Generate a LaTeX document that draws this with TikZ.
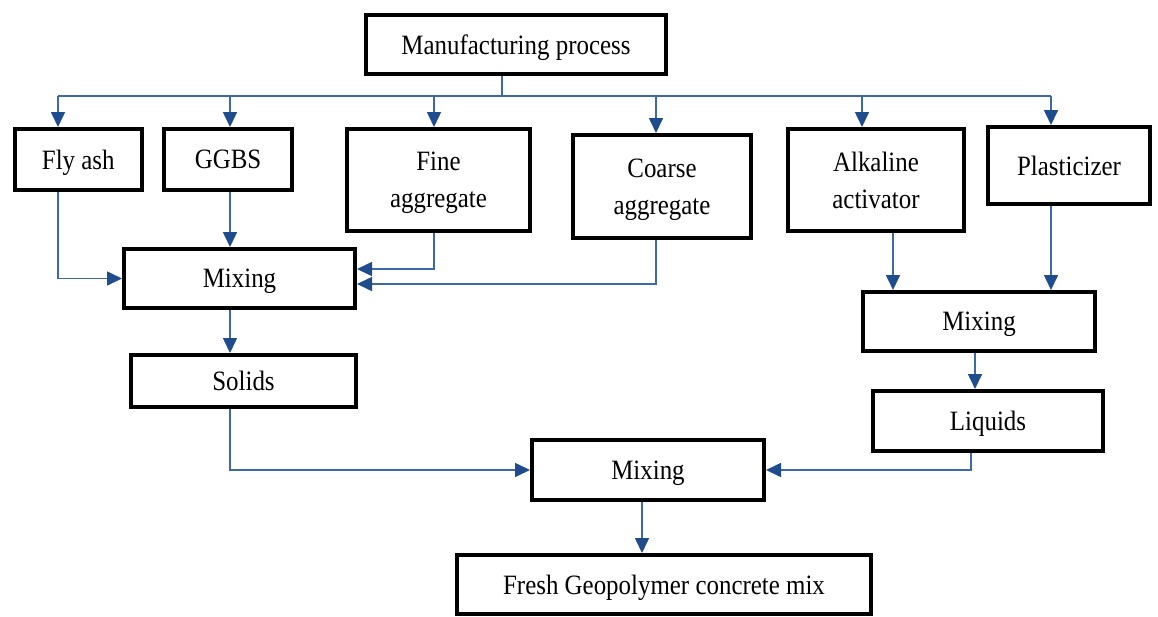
\documentclass[tikz,border=0pt]{standalone}
\usepackage{fontspec}
\newfontfamily\boxfont{Liberation Serif}[FakeStretch=0.89]
\usetikzlibrary{arrows.meta}
\definecolor{lineblue}{RGB}{62,104,172}
\definecolor{headblue}{RGB}{31,76,140}
\tikzset{
  box/.style={draw=black, line width=4pt, inner sep=0pt, align=center,
    text depth=0pt, font=\boxfont\fontsize{28}{37}\selectfont},
  conn/.style={draw=lineblue, line width=1.6pt},
  arr/.style={conn, -{Triangle[length=15pt,width=14pt,color=headblue]}}
}
\begin{document}
\begin{tikzpicture}[x=1pt,y=-1pt]
\useasboundingbox (0,0) rectangle (1158,616);
% boxes
\node[box, minimum width=300, minimum height=59] (mp) at (516,44.5) {Manufacturing process};
\node[box, minimum width=126.5, minimum height=61] (fly) at (78.25,159.5) {Fly ash};
\node[box, minimum width=128, minimum height=61] (gg) at (228,159.5) {GGBS};
\node[box, minimum width=183, minimum height=102] (fine) at (438.5,180) {Fine\\aggregate};
\node[box, minimum width=178, minimum height=103] (coarse) at (662,186.5) {Coarse\\aggregate};
\node[box, minimum width=176, minimum height=102] (alk) at (876,180) {Alkaline\\activator};
\node[box, minimum width=162, minimum height=77] (plas) at (1069,165.5) {Plasticizer};
\node[box, minimum width=231, minimum height=59] (mixL) at (239.5,278.5) {Mixing};
\node[box, minimum width=225, minimum height=52] (sol) at (243.5,381) {Solids};
\node[box, minimum width=232, minimum height=59] (mixR) at (979,321.5) {Mixing};
\node[box, minimum width=230, minimum height=60] (liq) at (988,421) {Liquids};
\node[box, minimum width=232, minimum height=60] (mixB) at (648,470) {Mixing};
\node[box, minimum width=414, minimum height=59] (fresh) at (664,584.5) {Fresh Geopolymer concrete mix};
% bus from manufacturing process
\coordinate (stem) at (502,96);
\coordinate (bfly) at (58,96);
\coordinate (bgg) at (230,96);
\coordinate (bfine) at (434,96);
\coordinate (bcoarse) at (656,96);
\coordinate (balk) at (862,96);
\coordinate (bplas) at (1051,96);
\draw[conn] (stem |- mp.south) -- (stem);
\draw[conn] (bfly) -- (bplas);
\draw[arr] (bfly) -- (bfly |- fly.north);
\draw[arr] (bgg) -- (bgg |- gg.north);
\draw[arr] (bfine) -- (bfine |- fine.north);
\draw[arr] (bcoarse) -- (bcoarse |- coarse.north);
\draw[arr] (balk) -- (balk |- alk.north);
\draw[arr] (bplas) -- (bplas |- plas.north);
% to left mixing
\draw[arr] (bfly |- fly.south) |- (mixL.west);
\draw[arr] (bgg |- gg.south) -- (bgg |- mixL.north);
\draw[arr] (bfine |- fine.south) |- ([yshift=9.5pt]mixL.east);
\draw[arr] (bcoarse |- coarse.south) |- ([yshift=-5.5pt]mixL.east);
% to right mixing
\coordinate (xalk) at (893,0);
\draw[arr] (xalk |- alk.south) -- (xalk |- mixR.north);
\draw[arr] (bplas |- plas.south) -- (bplas |- mixR.north);
% to solids / liquids
\draw[arr] (bgg |- mixL.south) -- (bgg |- sol.north);
\coordinate (xliq) at (975,0);
\draw[arr] (xliq |- mixR.south) -- (xliq |- liq.north);
% to bottom mixing
\draw[arr] (bgg |- sol.south) |- (mixB.west);
\coordinate (xliqo) at (971,0);
\draw[arr] (xliqo |- liq.south) |- (mixB.east);
\coordinate (xmix) at (642,0);
\draw[arr] (xmix |- mixB.south) -- (xmix |- fresh.north);
\end{tikzpicture}
\end{document}
